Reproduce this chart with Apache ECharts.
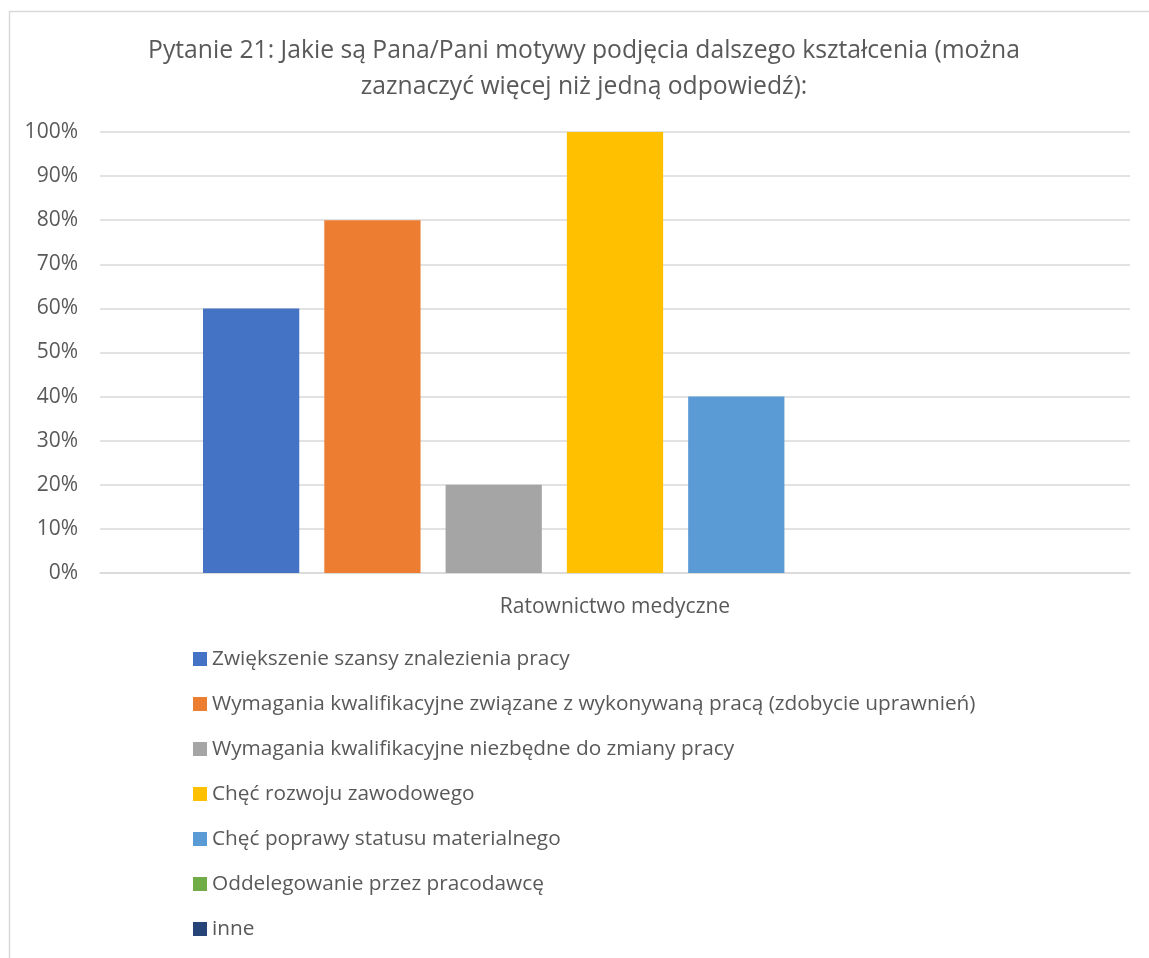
<!DOCTYPE html>
<html><head><meta charset="utf-8">
<script src="https://cdn.jsdelivr.net/npm/echarts@6/dist/echarts.min.js"></script>
<style>html,body{margin:0;padding:0;background:#fff}#c{width:1149px;height:958px}</style>
</head><body><div id="c"></div>
<script>
const categories = ['Ratownictwo medyczne'];
const seriesNames = [
  'Zwiększenie szansy znalezienia pracy',
  'Wymagania kwalifikacyjne związane z wykonywaną pracą (zdobycie uprawnień)',
  'Wymagania kwalifikacyjne niezbędne do zmiany pracy',
  'Chęć rozwoju zawodowego',
  'Chęć poprawy statusu materialnego',
  'Oddelegowanie przez pracodawcę',
  'inne'
];
const seriesValues = [60, 80, 20, 100, 40, 0, 0];
const colors = ['#4472C4', '#ED7D31', '#A5A5A5', '#FFC000', '#5B9BD5', '#70AD47', '#264478'];
const titleText = 'Pytanie 21: Jakie są Pana/Pani motywy podjęcia dalszego kształcenia (można\nzaznaczyć więcej niż jedną odpowiedź):';

const FONT = 'Open Sans';
const chart = echarts.init(document.getElementById('c'));
chart.setOption({
  animation: false,
  color: colors,
  textStyle: { fontFamily: FONT },
  graphic: [{
    type: 'rect', left: 7, top: 9,
    shape: { width: 1160, height: 980 },
    style: { fill: 'none', stroke: '#D9D9D9', lineWidth: 1.5 },
    silent: true
  }, {
    type: 'text', x: 584, y: 33,
    style: {
      text: titleText, align: 'center', verticalAlign: 'top',
      fontFamily: FONT, fontSize: 24.7, lineHeight: 36, fill: '#595959'
    },
    silent: true
  }],
  grid: { left: 100, right: 19, top: 132, bottom: 385, containLabel: false },
  legend: {
    orient: 'vertical', left: 188, top: 643,
    icon: 'rect', itemWidth: 14, itemHeight: 14, itemGap: 23,
    textStyle: { fontFamily: FONT, fontSize: 20.8, color: '#595959', lineHeight: 22 },
    data: seriesNames
  },
  xAxis: {
    type: 'category', data: categories,
    axisLine: { lineStyle: { color: '#D9D9D9', width: 1.5 } },
    axisTick: { show: false },
    axisLabel: { color: '#595959', fontSize: 21, margin: 24 }
  },
  yAxis: {
    type: 'value', min: 0, max: 100, interval: 10,
    axisLine: { show: false }, axisTick: { show: false },
    axisLabel: { formatter: '{value}%', color: '#595959', fontSize: 21, margin: 22 },
    splitLine: { lineStyle: { color: '#D9D9D9', width: 1.5 } }
  },
  series: seriesNames.map((n, i) => ({
    name: n, type: 'bar', data: [seriesValues[i]],
    barGap: '26%', barCategoryGap: '20%'
  }))
});
</script></body></html>
